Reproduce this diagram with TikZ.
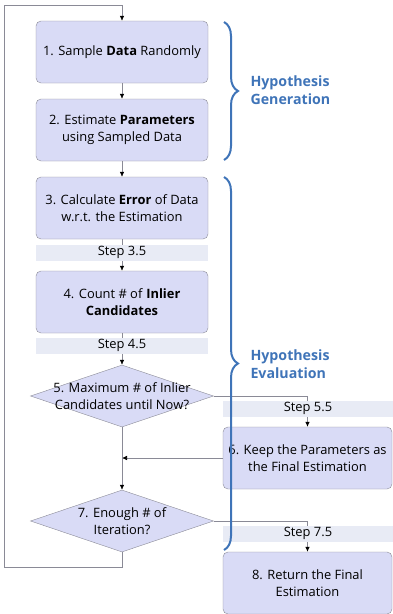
\documentclass[tikz,border=0pt]{standalone}
\usepackage{fontspec}
\setmainfont{Open Sans}
\usetikzlibrary{shapes.geometric,arrows.meta,decorations.pathreplacing}
\definecolor{boxfill}{HTML}{D9DBF6}
\definecolor{bandfill}{HTML}{E8EBF5}
\definecolor{edgegray}{HTML}{8A8A96}
\definecolor{braceblue}{HTML}{3F74B8}
\tikzset{
  stepbox/.style={draw=edgegray, fill=boxfill, rounded corners=5pt,
    minimum width=172pt, minimum height=62pt, align=center, inner sep=0pt},
  decision/.style={diamond, draw=edgegray, fill=boxfill,
    minimum width=183pt, minimum height=62pt, inner sep=0pt},
  band/.style={fill=bandfill, minimum height=16pt, inner sep=0pt},
  link/.style={draw=edgegray, line width=0.6pt, -{Latex[black,length=5pt,width=4.5pt]}},
  bracket/.style={draw=braceblue, line width=2pt, decorate,
    decoration={brace, amplitude=14pt}},
  bracelabel/.style={text=braceblue, font=\fontsize{14.2}{18}\selectfont\bfseries,
    align=left, anchor=west}
}
\begin{document}
\begin{tikzpicture}[x=1pt,y=-1pt,font=\fontsize{12.9}{16.8}\selectfont]
  \useasboundingbox (0,0) rectangle (393,614);
  % steps
  \node[stepbox] (box1) at (122,52) {1. Sample \textbf{Data} Randomly};
  \node[stepbox] (box2) at (122,130) {2. Estimate \textbf{Parameters}\\using Sampled Data};
  \node[stepbox] (box3) at (122,208) {3. Calculate \textbf{Error} of Data\\w.r.t. the Estimation};
  \node[stepbox] (box4) at (122,302) {4. Count \# of \textbf{Inlier}\\\textbf{Candidates}};
  \node[decision] (d5) at (122,396) {};
  \node[align=center] (t5) at (d5) {5. Maximum \# of Inlier\\Candidates until Now?};
  \node[stepbox, minimum width=169pt] (box6) at (307.5,458) {6. Keep the Parameters as\\the Final Estimation};
  \node[decision] (d7) at (122,521) {};
  \node[align=center] (t7) at (d7) {7. Enough \# of\\Iteration?};
  \node[stepbox, minimum width=169pt] (box8) at (307.5,583) {8. Return the Final\\Estimation};
  % connectors
  \coordinate (join) at (d5.south |- box6.west);
  \coordinate (loopa) at (122,567);
  \coordinate (loopb) at (4,5);
  \begin{scope}[link]
    \draw (box1) -- (box2);
    \draw (box2) -- (box3);
    \draw (box3) -- (box4);
    \draw (box4) -- (d5);
    \draw (d5.east) -| (box6.north);
    \draw (box6.west) -- (join);
    \draw (d5.south) -- (d7.north);
    \draw (d7.east) -| (box8.north);
    \draw (d7.south) -- (loopa) -| (loopb) -| (box1.north);
  \end{scope}
  % intermediate steps
  \node[band, minimum width=172pt] (s35) at (122,252.5) {Step 3.5};
  \node[band, minimum width=172pt] (s45) at (122,345.5) {Step 4.5};
  \node[band, minimum width=170pt] (s55) at (308,408.5) {Step 5.5};
  \node[band, minimum width=170pt] (s75) at (308,533.5) {Step 7.5};
  % braces
  \draw[bracket] (224,22) -- (224,160);
  \node[bracelabel] (gen) at (247,90) {Hypothesis\\Generation};
  \draw[bracket] (224,177) -- (224,550);
  \node[bracelabel] (eval) at (247,364) {Hypothesis\\Evaluation};
\end{tikzpicture}
\end{document}
